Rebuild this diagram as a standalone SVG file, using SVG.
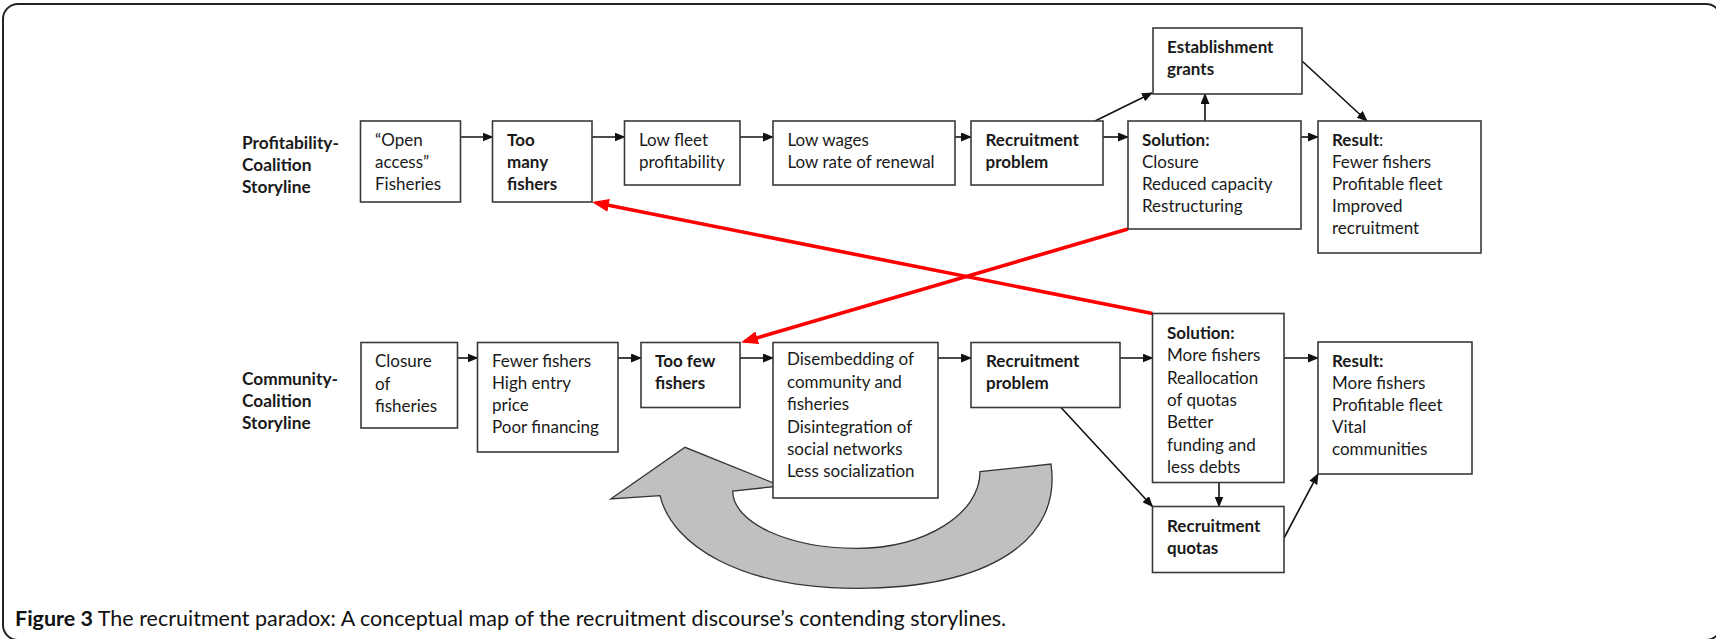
<svg xmlns="http://www.w3.org/2000/svg" width="1716" height="639" viewBox="0 0 1716 639">
<defs>
<style>
text{font-family:Lato,"Liberation Sans",sans-serif;font-size:17px;fill:#1a1a1a}
.b{font-weight:bold}
.box{fill:#fff;stroke:#3a3a3a;stroke-width:1.6}
.lab{font-weight:bold;font-size:17.3px}
.ln{stroke:#111;stroke-width:1.6;fill:none;marker-end:url(#ah)}
.red{stroke:#f00;stroke-width:3.6;fill:none;marker-end:url(#ahr)}
.cap{font-size:21.5px;fill:#111}
</style>
<marker id="ah" markerWidth="11" markerHeight="9" refX="10" refY="4.5" orient="auto" markerUnits="userSpaceOnUse"><path d="M0,0 L11,4.5 L0,9 z" fill="#111"/></marker>
<marker id="ahr" markerWidth="17" markerHeight="13" refX="13" refY="6.5" orient="auto" markerUnits="userSpaceOnUse"><path d="M0,0 L17,6.5 L0,13 z" fill="#f00"/></marker>
</defs>
<rect width="1716" height="639" fill="#fff"/>
<rect x="3" y="4" width="1718" height="636" rx="15" ry="15" fill="none" stroke="#222" stroke-width="2"/>

<g id="curved-arrow">
<path d="M610.7,499 L685,447.3 L781,486 L732.7,491 C732.7,522.6 788.3,548.3 856.7,548.3 C924.8,548.3 980,514 980,471.7 L1051,464 C1062,540 990,588.3 856.7,588.3 C740,588.3 672,545 660,495.7 Z" fill="#c0c0c0" stroke="#333" stroke-width="1.3" stroke-linejoin="miter"/>
</g>

<g id="labels">
<text class="lab" x="242" y="149">Profitability-</text>
<text class="lab" x="242" y="171">Coalition</text>
<text class="lab" x="242" y="193">Storyline</text>
<text class="lab" x="242" y="385">Community-</text>
<text class="lab" x="242" y="407">Coalition</text>
<text class="lab" x="242" y="429">Storyline</text>
</g>

<g id="connectors">
<line class="ln" x1="460.5" y1="137" x2="492.5" y2="137"/>
<line class="ln" x1="592" y1="137" x2="624.5" y2="137"/>
<line class="ln" x1="740" y1="137" x2="773" y2="137"/>
<line class="ln" x1="955" y1="137" x2="971" y2="137"/>
<line class="ln" x1="1103" y1="137" x2="1128" y2="137"/>
<line class="ln" x1="1301" y1="137" x2="1318" y2="137"/>
<line class="ln" x1="1095" y1="121" x2="1152" y2="93"/>
<line class="ln" x1="1205" y1="121" x2="1205" y2="94"/>
<line class="ln" x1="1302" y1="61" x2="1367" y2="121"/>
<line class="ln" x1="457.5" y1="358" x2="477.5" y2="358"/>
<line class="ln" x1="618" y1="358" x2="641" y2="358"/>
<line class="ln" x1="740" y1="358" x2="773" y2="358"/>
<line class="ln" x1="938" y1="358" x2="971" y2="358"/>
<line class="ln" x1="1120" y1="358" x2="1152.5" y2="358"/>
<line class="ln" x1="1284" y1="358" x2="1318" y2="358"/>
<line class="ln" x1="1061" y1="407.5" x2="1152.5" y2="506.5"/>
<line class="ln" x1="1219" y1="482.7" x2="1219" y2="506.5"/>
<line class="ln" x1="1284" y1="538" x2="1318" y2="474"/>
<line class="red" x1="1128" y1="229" x2="744.8" y2="341.4"/>
<line class="red" x1="1152.5" y1="313.5" x2="595.9" y2="202.8"/>
</g>

<g id="open-access">
<rect class="box" x="360.5" y="121" width="100" height="81"/>
<text x="375" y="146">“Open</text><text x="375" y="168">access”</text><text x="375" y="190">Fisheries</text>
</g>
<g id="too-many">
<rect class="box" x="492.5" y="121" width="99.5" height="81"/>
<text class="b" x="507" y="146">Too</text><text class="b" x="507" y="168">many</text><text class="b" x="507" y="190">fishers</text>
</g>
<g id="low-fleet">
<rect class="box" x="624.5" y="121" width="115.5" height="64"/>
<text x="639" y="146">Low fleet</text><text x="639" y="168">profitability</text>
</g>
<g id="low-wages">
<rect class="box" x="773" y="121" width="182" height="64"/>
<text x="787.5" y="146">Low wages</text><text x="787.5" y="168">Low rate of renewal</text>
</g>
<g id="recruit-problem-top">
<rect class="box" x="971" y="121" width="132" height="64"/>
<text class="b" x="985.5" y="146">Recruitment</text><text class="b" x="985.5" y="168">problem</text>
</g>
<g id="solution-top">
<rect class="box" x="1128" y="121" width="173" height="108"/>
<text class="b" x="1142" y="146">Solution:</text><text x="1142" y="168">Closure</text><text x="1142" y="190">Reduced capacity</text><text x="1142" y="212">Restructuring</text>
</g>
<g id="result-top">
<rect class="box" x="1318" y="121" width="163" height="132"/>
<text x="1332" y="146"><tspan class="b">Result</tspan>:</text><text x="1332" y="168">Fewer fishers</text><text x="1332" y="190">Profitable fleet</text><text x="1332" y="212">Improved</text><text x="1332" y="234">recruitment</text>
</g>
<g id="grants">
<rect class="box" x="1153" y="28" width="149" height="66"/>
<text class="b" x="1167" y="53">Establishment</text><text class="b" x="1167" y="75">grants</text>
</g>

<g id="closure">
<rect class="box" x="361" y="342.5" width="96.5" height="85.5"/>
<text x="375" y="367">Closure</text><text x="375" y="389.5">of</text><text x="375" y="411.5">fisheries</text>
</g>
<g id="fewer">
<rect class="box" x="477.5" y="342.5" width="140.5" height="109.5"/>
<text x="492" y="367">Fewer fishers</text><text x="492" y="389">High entry</text><text x="492" y="411">price</text><text x="492" y="433">Poor financing</text>
</g>
<g id="too-few">
<rect class="box" x="641" y="342.5" width="99" height="65"/>
<text class="b" x="655" y="367">Too few</text><text class="b" x="655" y="389">fishers</text>
</g>
<g id="disembedding">
<rect class="box" x="773" y="342.5" width="165" height="155.5"/>
<text x="787" y="365">Disembedding of</text><text x="787" y="387.5">community and</text><text x="787" y="410">fisheries</text><text x="787" y="432.5">Disintegration of</text><text x="787" y="455">social networks</text><text x="787" y="477">Less socialization</text>
</g>
<g id="recruit-problem-bottom">
<rect class="box" x="971" y="342.5" width="149" height="65"/>
<text class="b" x="986" y="367">Recruitment</text><text class="b" x="986" y="389">problem</text>
</g>
<g id="solution-bottom">
<rect class="box" x="1152.5" y="313.5" width="131.5" height="169"/>
<text class="b" x="1167" y="339">Solution:</text><text x="1167" y="361">More fishers</text><text x="1167" y="384">Reallocation</text><text x="1167" y="406">of quotas</text><text x="1167" y="428">Better</text><text x="1167" y="451">funding and</text><text x="1167" y="473">less debts</text>
</g>
<g id="result-bottom">
<rect class="box" x="1318" y="342" width="154" height="132"/>
<text class="b" x="1332" y="367">Result:</text><text x="1332" y="389">More fishers</text><text x="1332" y="411">Profitable fleet</text><text x="1332" y="433">Vital</text><text x="1332" y="455">communities</text>
</g>
<g id="quotas">
<rect class="box" x="1152.5" y="506.5" width="131.5" height="66"/>
<text class="b" x="1167" y="532">Recruitment</text><text class="b" x="1167" y="554">quotas</text>
</g>

<g id="caption">
<text class="cap" x="15" y="626"><tspan class="b">Figure 3</tspan> The recruitment paradox: A conceptual map of the recruitment discourse’s contending storylines.</text>
</g>
</svg>
